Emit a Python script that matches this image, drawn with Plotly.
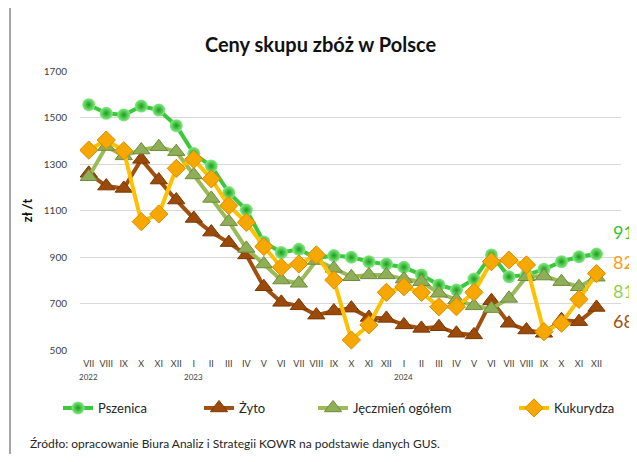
import plotly.graph_objects as go

months = ["VII","VIII","IX","X","XI","XII","I","II","III","IV","V","VI",
          "VII","VIII","IX","X","XI","XII","I","II","III","IV","V","VI",
          "VII","VIII","IX","X","XI","XII"]
years = ["2022", "2023", "2024"]
year_pos = [0, 6, 18]

pszenica = [1555,1518,1511,1549,1532,1465,1345,1291,1177,1102,965,919,
            933,895,906,899,880,870,856,823,780,758,805,909,
            815,823,847,880,901,913]
zyto = [1260,1205,1195,1320,1231,1145,1066,1007,962,909,772,705,
        690,650,668,680,640,636,608,593,600,572,565,712,
        615,586,572,630,622,683]
jeczmien = [1245,1375,1335,1360,1374,1353,1253,1152,1052,937,870,801,
            787,885,851,815,823,823,805,794,744,715,690,678,
            722,815,818,794,772,813]
kukurydza = [1360,1403,1357,1052,1085,1281,1320,1236,1121,1049,945,856,
             870,909,801,543,608,748,772,748,686,686,748,880,
             887,866,579,615,718,829]

end_labels = ["913", "829", "813", "683"]
end_label_y = [1007, 878, 753, 624]
end_colors = ["#33c233", "#ff9a1a", "#92d050", "#a0500f"]

x = list(range(len(months)))
FONT = "Lato"

# figure is drawn inside the page's default 8px body margin
W, H = 637, 446
L, R, T, B = 72, 24, 63, 104
PW, PH = W - L - R, H - T - B


def px_x(fx):
    return (fx - L) / PW


def px_y(fy):
    return (H - B - fy) / PH


legend_ids = ["legend", "legend2", "legend3", "legend4"]
legend_left = [50, 191, 305, 506]

fig = go.Figure()
fig.add_trace(go.Scatter(
    x=x, y=pszenica, name="Pszenica", mode="lines+markers", legend="legend",
    line=dict(color="#3cc83c", width=4),
    marker=dict(symbol="circle", size=13, color="#86ec86",
                gradient=dict(type="radial", color="#189c18"),
                line=dict(width=0))))
fig.add_trace(go.Scatter(
    x=x, y=zyto, name="Żyto", mode="lines+markers", legend="legend2",
    line=dict(color="#a0500f", width=4),
    marker=dict(symbol="triangle-up", size=15, color="#9c4a0a",
                line=dict(width=1, color="#7a3806"))))
fig.add_trace(go.Scatter(
    x=x, y=jeczmien, name="Jęczmień ogółem", mode="lines+markers", legend="legend3",
    line=dict(color="#9bbb59", width=4),
    marker=dict(symbol="triangle-up", size=15, color="#8fae55",
                line=dict(width=1, color="#6f8a3c"))))
fig.add_trace(go.Scatter(
    x=x, y=kukurydza, name="Kukurydza", mode="lines+markers", legend="legend4",
    line=dict(color="#ffc000", width=4),
    marker=dict(symbol="diamond", size=14, color="#f7a800",
                line=dict(width=1, color="#d98c00"))))

annotations = []
for t, yv, c in zip(end_labels, end_label_y, end_colors):
    annotations.append(dict(x=px_x(603), xref="paper", y=yv, yref="y", text=t,
                            showarrow=False, xanchor="left", yanchor="middle",
                            font=dict(family=FONT, size=18, color=c)))
for yr, p in zip(years, year_pos):
    annotations.append(dict(x=p, xref="x", y=px_y(369), yref="paper", text=yr,
                            showarrow=False, xanchor="center", yanchor="middle",
                            font=dict(family=FONT, size=8, color="#404040")))
annotations.append(dict(x=px_x(20), xref="paper", y=px_y(435), yref="paper",
                        text="Źródło: opracowanie Biura Analiz i Strategii KOWR na podstawie danych GUS.",
                        showarrow=False, xanchor="left", yanchor="middle",
                        font=dict(family=FONT, size=12, color="#262626")))

layout_legends = {}
for lid, lx in zip(legend_ids, legend_left):
    layout_legends[lid] = dict(orientation="h", x=px_x(lx), xanchor="left",
                               y=px_y(400), yanchor="middle",
                               font=dict(family=FONT, size=13, color="#262626"),
                               bgcolor="rgba(0,0,0,0)", itemwidth=30)

fig.update_layout(
    width=W, height=H,
    margin=dict(l=L, r=R, t=T, b=B),
    paper_bgcolor="white", plot_bgcolor="white",
    title=dict(text="<b>Ceny skupu zbóż w Polsce</b>", x=px_x(W / 2 - 8 + 2), xref="paper",
               xanchor="center", y=1 - 37 / H, yanchor="middle",
               font=dict(family=FONT, size=20, color="#111111")),
    xaxis=dict(range=[-0.5, 30.4], tickmode="array", tickvals=x, ticktext=months,
               showgrid=False, zeroline=False, showline=False, ticks="",
               ticklabelstandoff=7,
               tickfont=dict(family=FONT, size=9, color="#404040")),
    yaxis=dict(range=[500, 1700], tickvals=[500, 700, 900, 1100, 1300, 1500, 1700],
               showgrid=True, gridcolor="#d9d9d9", gridwidth=1, zeroline=False,
               showline=False, ticks="", ticklabelstandoff=12,
               tickfont=dict(family=FONT, size=10, color="#404040"),
               title=dict(text="<b>zł /t</b>", standoff=8,
                          font=dict(family=FONT, size=13, color="#111111"))),
    annotations=annotations,
    shapes=[dict(type="line", xref="paper", yref="paper",
                 x0=px_x(2), x1=px_x(2), y0=px_y(0), y1=px_y(H),
                 line=dict(color="#a6a6a6", width=2))],
    showlegend=True,
    **layout_legends,
)

fig.write_html("out.html")
